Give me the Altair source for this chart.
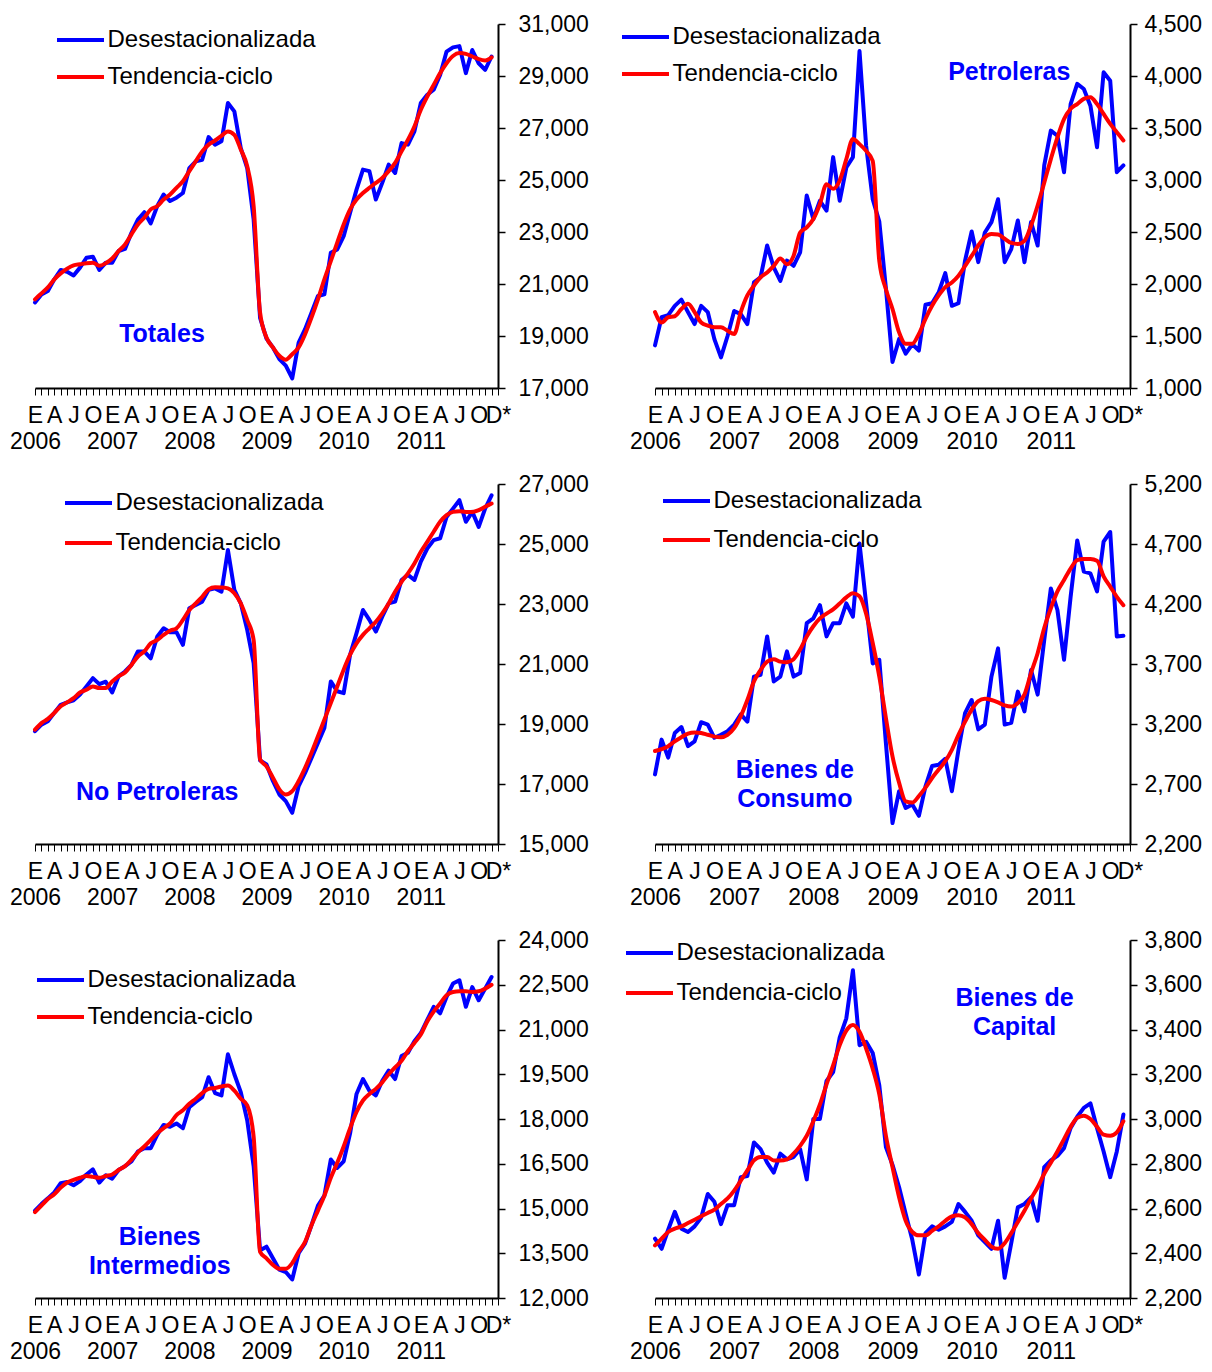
import altair as alt
import pandas as pd

SERIES = ["Desestacionalizada", "Tendencia-ciclo"]
SERIES_COLORS = ["#0000FF", "#FF0000"]
MONTH_LETTERS = ["E", "F", "M", "A", "M", "J", "J", "A", "S", "O", "N", "D"]
YEARS = ["2006", "2007", "2008", "2009", "2010", "2011"]
LAST_MONTH_LABEL = "D*"

# Totales
TOT_DES = [20290, 20600, 20730, 21180, 21540, 21470, 21330, 21630, 22010, 22050, 21540, 21820,
           21820, 22270, 22350, 22970, 23480, 23760, 23330, 23990, 24440, 24190, 24320, 24500,
           25460, 25720, 25780, 26650, 26360, 26490, 27960, 27640, 26230, 25460, 23480, 19700,
           18900, 18560, 18110, 17860, 17370, 18750, 19260, 19900, 20540, 20600, 22200, 22330,
           22840, 23740, 24630, 25400, 25340, 24250, 24890, 25590, 25270, 26420, 26360, 26870,
           27960, 28280, 28470, 29040, 29940, 30100, 30150, 29110, 30000, 29490, 29240, 29750]
TOT_TEN = [20410, 20640, 20870, 21180, 21410, 21590, 21720, 21760, 21800, 21820, 21700, 21800,
           21980, 22270, 22520, 22910, 23290, 23550, 23870, 23990, 24250, 24440, 24700, 24950,
           25340, 25720, 26100, 26360, 26520, 26700, 26870, 26740, 26170, 25530, 23990, 19900,
           18940, 18560, 18240, 18090, 18300, 18560, 19070, 19710, 20410, 21180, 21880, 22590,
           23290, 23870, 24250, 24500, 24700, 24890, 25080, 25340, 25660, 26100, 26550, 27060,
           27700, 28210, 28660, 29110, 29490, 29770, 29880, 29850, 29750, 29650, 29600, 29720]

# Petroleras
PET_DES = [1410, 1680, 1700, 1790, 1850, 1730, 1615, 1790, 1730, 1470, 1295, 1500,
           1740, 1710, 1615, 2015, 2065, 2370, 2160, 2030, 2225, 2175, 2305, 2850,
           2625, 2800, 2705, 3220, 2800, 3120, 3220, 4240, 3330, 2815, 2600, 1960,
           1250, 1470, 1330, 1420, 1360, 1800, 1815, 1920, 2105, 1790, 1815, 2225,
           2505, 2210, 2495, 2595, 2815, 2210, 2335, 2610, 2210, 2595, 2370, 3140,
           3475, 3425, 3075, 3730, 3925, 3875, 3715, 3315, 4035, 3955, 3075, 3140]
PET_TEN = [1730, 1630, 1680, 1690, 1760, 1810, 1730, 1630, 1600, 1585, 1585, 1550,
           1520, 1730, 1890, 1985, 2065, 2110, 2175, 2245, 2190, 2270, 2495, 2545,
           2625, 2770, 2960, 2915, 2995, 3200, 3395, 3345, 3280, 3185, 2220, 1950,
           1760, 1535, 1425, 1425, 1520, 1665, 1790, 1890, 1970, 2015, 2080, 2175,
           2270, 2370, 2450, 2480, 2475, 2435, 2395, 2385, 2415, 2560, 2755, 2975,
           3200, 3410, 3585, 3685, 3730, 3780, 3795, 3730, 3635, 3540, 3460, 3380]

# No Petroleras
NOP_DES = [18760, 18980, 19090, 19370, 19640, 19720, 19790, 19980, 20250, 20530, 20330, 20410,
           20050, 20590, 20750, 20970, 21420, 21420, 21190, 21910, 22190, 22060, 22060, 21640,
           22860, 22970, 23080, 23470, 23520, 23410, 24800, 23470, 23020, 22140, 21030, 17790,
           17650, 17100, 16650, 16430, 16040, 16930, 17370, 17870, 18370, 18870, 20420, 20090,
           20030, 21310, 22030, 22800, 22470, 22080, 22580, 23020, 23080, 23800, 23970, 23800,
           24410, 24850, 25130, 25190, 25900, 26180, 26460, 25740, 26070, 25570, 26180, 26620]
NOP_TEN = [18810, 19030, 19170, 19370, 19590, 19720, 19860, 20050, 20140, 20250, 20200, 20200,
           20420, 20590, 20720, 20970, 21250, 21420, 21690, 21800, 21970, 22110, 22190, 22470,
           22800, 23020, 23240, 23490, 23560, 23550, 23520, 23360, 23020, 22470, 21800, 17820,
           17590, 17210, 16820, 16650, 16760, 17100, 17540, 18040, 18590, 19140, 19700, 20250,
           20810, 21310, 21690, 21970, 22190, 22410, 22690, 23020, 23410, 23740, 24020, 24350,
           24740, 25070, 25410, 25740, 25960, 26070, 26090, 26070, 26070, 26130, 26240, 26350]

# Bienes de Consumo
CON_DES = [2780, 3070, 2920, 3125, 3175, 3015, 3055, 3215, 3195, 3085, 3110, 3140,
           3195, 3280, 3220, 3595, 3610, 3930, 3555, 3595, 3805, 3595, 3625, 4040,
           4080, 4190, 3930, 4040, 4040, 4205, 4095, 4705, 4205, 3705, 3735, 3040,
           2375, 2640, 2500, 2530, 2435, 2680, 2850, 2860, 2910, 2640, 2985, 3290,
           3400, 3155, 3195, 3595, 3830, 3195, 3210, 3470, 3305, 3650, 3445, 3900,
           4330, 4150, 3735, 4260, 4730, 4470, 4455, 4305, 4720, 4800, 3930, 3935]
CON_TEN = [2975, 2990, 3015, 3055, 3090, 3120, 3130, 3125, 3110, 3095, 3090, 3110,
           3165, 3265, 3400, 3555, 3650, 3720, 3740, 3720, 3715, 3740, 3820, 3930,
           4015, 4080, 4120, 4155, 4205, 4255, 4290, 4265, 4120, 3875, 3595, 3250,
           2930, 2710, 2555, 2545, 2600, 2670, 2750, 2820, 2890, 2985, 3110, 3220,
           3320, 3390, 3410, 3400, 3380, 3355, 3345, 3375, 3445, 3625, 3790, 4000,
           4165, 4305, 4400, 4495, 4565, 4575, 4575, 4560, 4430, 4345, 4260, 4190]

# Bienes Intermedios
INT_DES = [14930, 15150, 15340, 15540, 15850, 15890, 15780, 15920, 16140, 16310, 15870, 16110,
           16000, 16290, 16420, 16580, 16910, 17020, 17020, 17470, 17800, 17740, 17850, 17690,
           18400, 18570, 18730, 19400, 18870, 18790, 20170, 19500, 18900, 17960, 16420, 13600,
           13720, 13330, 12950, 12870, 12620, 13500, 13830, 14440, 15100, 15430, 16640, 16360,
           16580, 17520, 18840, 19340, 18950, 18790, 19280, 19620, 19340, 20110, 20220, 20610,
           20880, 21320, 21760, 21540, 22090, 22540, 22650, 21760, 22420, 21980, 22370, 22760]
INT_TEN = [14880, 15100, 15320, 15480, 15700, 15870, 15960, 16030, 16090, 16060, 16030, 16090,
           16140, 16290, 16420, 16640, 16880, 17080, 17300, 17520, 17690, 17850, 18130, 18290,
           18510, 18680, 18870, 19010, 19040, 19090, 19120, 18950, 18680, 18460, 17410, 13550,
           13330, 13110, 12980, 12980, 13170, 13550, 13880, 14440, 14930, 15430, 16030, 16530,
           17080, 17690, 18240, 18620, 18840, 19010, 19230, 19500, 19730, 19950, 20280, 20550,
           20830, 21270, 21600, 21870, 22150, 22260, 22280, 22280, 22260, 22280, 22370, 22500]

# Bienes de Capital
CAP_DES = [2465, 2420, 2505, 2585, 2510, 2495, 2520, 2560, 2665, 2630, 2530, 2615,
           2615, 2740, 2745, 2895, 2865, 2805, 2760, 2845, 2820, 2830, 2865, 2730,
           3000, 3000, 3170, 3210, 3365, 3450, 3665, 3330, 3345, 3295, 3150, 2875,
           2795, 2695, 2575, 2460, 2305, 2490, 2520, 2505, 2520, 2540, 2620, 2585,
           2545, 2480, 2450, 2420, 2545, 2290, 2445, 2605, 2620, 2650, 2545, 2785,
           2815, 2835, 2870, 2960, 3010, 3050, 3070, 2960, 2855, 2740, 2855, 3020]
CAP_TEN = [2435, 2465, 2495, 2510, 2520, 2535, 2550, 2565, 2580, 2595, 2620, 2645,
           2680, 2725, 2770, 2815, 2830, 2830, 2815, 2815, 2820, 2845, 2880, 2925,
           2990, 3065, 3155, 3240, 3330, 3395, 3420, 3390, 3315, 3225, 3110, 2925,
           2785, 2650, 2545, 2495, 2480, 2480, 2500, 2520, 2545, 2565, 2570, 2560,
           2530, 2490, 2460, 2430, 2420, 2445, 2490, 2540, 2590, 2645, 2695, 2755,
           2805, 2855, 2910, 2965, 3005, 3015, 3000, 2965, 2930, 2925, 2940, 2990]

FONT = "Liberation Sans"
N = 72


def month_label_expr():
    items = []
    for i in range(N + 1):
        if i == N:
            items.append(f"'{LAST_MONTH_LABEL}'")
        elif i % 12 == 0:
            items.append(f"['{MONTH_LETTERS[0]}','{YEARS[i // 12]}']")
        elif i % 3 == 0:
            items.append(f"'{MONTH_LETTERS[i % 12]}'")
        else:
            items.append("''")
    return "[" + ",".join(items) + "][datum.value]"


LABEL_EXPR = month_label_expr()


def panel(des, ten, ydom, ystep, title, tpos, width, height, lpos, rowpad, ypad):
    df = pd.DataFrame({
        "mes": list(range(N)) * 2,
        "valor": list(des) + list(ten),
        "serie": [SERIES[0]] * N + [SERIES[1]] * N,
    })
    x = alt.X("mes:Q",
              scale=alt.Scale(domain=[0, N], nice=False, zero=False),
              axis=alt.Axis(values=list(range(N + 1)), labelExpr=LABEL_EXPR, title=None,
                            labelAngle=0, labelOverlap=False, labelFlush=False,
                            labelPadding=9, labelLineHeight=26, tickSize=7, tickWidth=1,
                            domainWidth=2, labelFontSize=23, grid=False))
    y = alt.Y("valor:Q",
              scale=alt.Scale(domain=list(ydom), nice=False, zero=False),
              axis=alt.Axis(orient="right", values=list(range(ydom[0], ydom[1] + 1, ystep)),
                            format=",d", title=None, tickSize=7, tickWidth=1.5, domainWidth=2,
                            labelPadding=ypad, labelOverlap=False, labelFontSize=23,
                            labelFlush=False, grid=False))
    color = alt.Color("serie:N",
                      scale=alt.Scale(domain=SERIES, range=SERIES_COLORS),
                      legend=alt.Legend(title=None, orient="none", legendX=lpos[0], legendY=lpos[1],
                                        symbolType="M-2,0L2,0", symbolSize=552, symbolStrokeWidth=4,
                                        symbolOffset=9.5, labelOffset=13, rowPadding=rowpad,
                                        labelFont=FONT, labelFontSize=24, labelColor="black",
                                        labelLimit=0, padding=0))
    base = alt.Chart(df)
    des_line = base.transform_filter(alt.datum.serie == SERIES[0]).mark_line(
        strokeWidth=4, strokeJoin="round", strokeCap="round").encode(x=x, y=y, color=color)
    ten_line = base.transform_filter(alt.datum.serie == SERIES[1]).mark_line(
        strokeWidth=4, strokeJoin="round", strokeCap="round", interpolate="monotone"
    ).encode(x=x, y=y, color=color)
    tdf = pd.DataFrame({"mes": [tpos[0]], "valor": [tpos[1]]})
    label = alt.Chart(tdf).mark_text(
        text=title, font=FONT, fontSize=25, fontWeight="bold", color="#0000FF",
        align="center", baseline="middle", lineHeight=29).encode(x=x, y=y)
    return alt.layer(des_line, ten_line, label).properties(width=width, height=height)


LW, RW = 463, 475
p1 = panel(TOT_DES, TOT_TEN, (17000, 31000), 2000, "Totales", (19.75, 19080),
           LW, 364, (22, 2), 11, 13)
p2 = panel(PET_DES, PET_TEN, (1000, 4500), 500, "Petroleras", (53.7, 4038),
           RW, 364, (-33, -1), 11, 7)
p3 = panel(NOP_DES, NOP_TEN, (15000, 27000), 2000, "No Petroleras", (19.0, 16733),
           LW, 360, (30, 5), 14, 13)
p4 = panel(CON_DES, CON_TEN, (2200, 5200), 500, ["Bienes de", "Consumo"], (21.2, 2817),
           RW, 360, (8, 3), 13, 7)
p5 = panel(INT_DES, INT_TEN, (12000, 24000), 1500, ["Bienes", "Intermedios"], (19.4, 14045),
           LW, 358, (2, 26), 11, 13)
p6 = panel(CAP_DES, CAP_TEN, (2200, 3800), 200, ["Bienes de", "Capital"], (54.5, 3541),
           RW, 358, (-29, -1), 14, 7)

chart = alt.concat(p1, p2, p3, p4, p5, p6, columns=2,
                   spacing={"row": 96, "column": 157},
                   bounds="flush", align="each").resolve_scale(
    color="independent").resolve_legend(color="independent").properties(
    padding={"left": 1, "top": 5, "right": 0, "bottom": 0})

chart = chart.configure_view(stroke=None).configure_axis(
    labelFont=FONT, labelColor="black", domainColor="black", tickColor="black")

chart.save("out.html", embed_options={"renderer": "svg", "actions": False})
